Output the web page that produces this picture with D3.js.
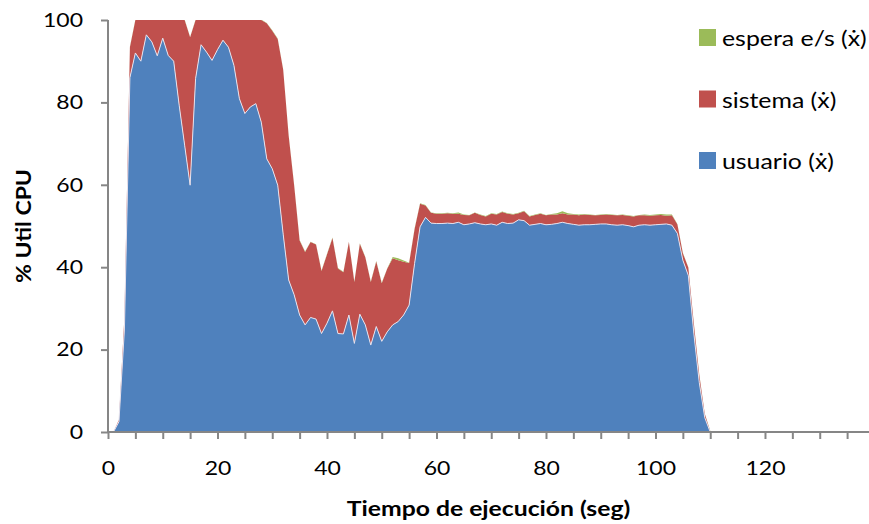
<!DOCTYPE html>
<html>
<head>
<meta charset="utf-8">
<script src="https://cdn.jsdelivr.net/npm/d3@7"></script>
<style>
  body { margin: 0; background: #fff; }
  svg text { font-family: Lato, "Open Sans", sans-serif; fill: #000; }
</style>
</head>
<body>
<svg id="chart" width="869" height="524"></svg>
<script>
// Tiempo de ejecución (segundos), one sample per second
const tiempo = d3.range(0, 111);

// % CPU en modo usuario
const usuario = [
  0, 0, 2.5, 25, 86, 92, 90, 96.4, 94.7, 91.3,
  95.6, 91.4, 90, 79.3, 69.6, 59.9, 85.8, 94, 92.2, 90.2,
  92.8, 95.1, 93.4, 89, 80.9, 77.3, 78.9, 79.7, 75.2, 66.3,
  63.9, 59.9, 48, 36.9, 33.3, 28.4, 26, 27.8, 27.4, 23.9,
  26.4, 29.4, 23.9, 23.8, 28.4, 21.5, 28.6, 26, 21.1, 25.6,
  22, 24.3, 26, 26.8, 28.4, 30.8, 40.9, 49.8, 52.1, 50.7,
  50.6, 50.6, 50.7, 50.6, 50.9, 50.3, 50.5, 50.8, 50.5, 50.3,
  50.5, 50.2, 50.9, 50.6, 50.7, 51.5, 51.3, 50.2, 50.4, 50.6,
  50.3, 50.4, 50.6, 50.9, 50.6, 50.4, 50.2, 50.3, 50.3, 50.4,
  50.5, 50.5, 50.3, 50.2, 50.3, 50.1, 49.8, 50.2, 50.3, 50.2,
  50.3, 50.4, 50.5, 50.2, 48.2, 41.7, 38, 24, 12, 3.5,
  0
];

// % CPU en modo sistema
const sistema = [
  0, 0, 0.5, 3, 7.4, 8, 10, 3.6, 5.3, 8.7,
  4.4, 8.6, 10, 20.7, 30.4, 35.9, 14.2, 6, 7.8, 9.8,
  7.2, 4.9, 6.6, 11, 19.1, 22.7, 21.1, 20.3, 24.8, 32.9,
  33.5, 35.5, 39.9, 35, 26.6, 18.1, 17.7, 18.3, 18.1, 15.2,
  16.7, 17.7, 15.8, 15, 17.7, 14.9, 17.1, 16.4, 15.3, 15.8,
  14.1, 15.3, 16.2, 14.9, 12.9, 10.2, 8.4, 5.6, 2.9, 2.5,
  2.4, 2.4, 2.4, 2.4, 2.1, 2.4, 2.1, 2.4, 2.2, 2.0,
  2.5, 2.6, 2.5, 2.4, 2.1, 1.6, 2.3, 2.1, 2.3, 2.4,
  2.3, 2.4, 2.2, 2.2, 2.2, 2.4, 2.4, 2.5, 2.4, 2.2,
  2.2, 2.3, 2.4, 2.4, 2.4, 2.4, 2.5, 2.4, 2.3, 2.3,
  2.3, 2.3, 2.0, 2.4, 2.2, 1.7, 1.9, 2.4, 1.9, 0.9,
  0.2
];

// % CPU en espera de E/S
const espera = [
  0, 0, 0, 0.1, 0.1, 0.1, 0.1, 0.1, 0.1, 0.1,
  0.1, 0.1, 0.1, 0.1, 0.1, 0.1, 0.1, 0.1, 0.1, 0.1,
  0.1, 0.1, 0.1, 0.1, 0.1, 0.1, 0.1, 0.1, 0.1, 0.1,
  0.1, 0.1, 0.1, 0.1, 0.1, 0.1, 0.1, 0.1, 0.1, 0.1,
  0.1, 0.1, 0.1, 0.1, 0.1, 0.1, 0.1, 0.1, 0.1, 0.1,
  0.1, 0.1, 0.3, 0.5, 0.3, 0.1, 0.1, 0.1, 0.1, 0.1,
  0.1, 0.1, 0.1, 0.1, 0.3, 0.1, 0.1, 0.1, 0.1, 0.1,
  0.1, 0.1, 0.1, 0.1, 0.1, 0.1, 0.1, 0.1, 0.1, 0.1,
  0.1, 0.1, 0.3, 0.5, 0.3, 0.1, 0.2, 0.1, 0.1, 0.1,
  0.1, 0.1, 0.1, 0.1, 0.1, 0.1, 0.1, 0.1, 0.2, 0.2,
  0.2, 0.2, 0.3, 0.2, 0.1, 0.1, 0.1, 0.1, 0.1, 0.1,
  0.1
];

const serieNombres = ["usuario (ẋ)", "sistema (ẋ)", "espera e/s (ẋ)"];
const serieColores = ["#4F81BD", "#C0504D", "#9BBB59"];

const xTicks = d3.range(0, 136, 5);
const xEtiquetas = [0, 20, 40, 60, 80, 100, 120];
const yTicks = [0, 20, 40, 60, 80, 100];

const ejeColor = "#868686";
// Text is drawn slightly widened, like the condensed-but-stretched office font
const ancho = 1.18;

const svg = d3.select("#chart");

const x = d3.scaleLinear().domain([0, 139]).range([108, 869]);
const y = d3.scaleLinear().domain([0, 100]).range([432, 20]);

// Stack the three series: usuario at the bottom, then sistema, then espera
const filas = tiempo.map((t, i) => ({ t, u: usuario[i], s: sistema[i], e: espera[i] }));
const capas = d3.stack().keys(["u", "s", "e"])(filas);

svg.append("defs").append("clipPath").attr("id", "plotClip")
  .append("rect")
  .attr("x", x(0)).attr("y", y(100))
  .attr("width", x(139) - x(0)).attr("height", y(0) - y(100));

const area = d3.area()
  .x(d => x(d.data.t))
  .y0(d => y(d[0]))
  .y1(d => y(d[1]));

const plot = svg.append("g").attr("clip-path", "url(#plotClip)");

plot.selectAll("path.capa")
  .data(capas)
  .join("path")
  .attr("class", "capa")
  .attr("d", area)
  .attr("fill", (d, i) => serieColores[i]);

// Light edge along the top of the usuario band
plot.append("path")
  .datum(capas[0])
  .attr("d", d3.line().x(d => x(d.data.t)).y(d => y(d[1])))
  .attr("fill", "none")
  .attr("stroke", "#e4e2ee")
  .attr("stroke-width", 1);

// Axes
const xAxis = d3.axisBottom(x)
  .tickValues(xTicks)
  .tickSize(7)
  .tickPadding(22)
  .tickFormat(d => xEtiquetas.includes(d) ? d : "");

const gx = svg.append("g")
  .attr("transform", `translate(0,${y(0)})`)
  .call(xAxis);
gx.select(".domain").attr("d", `M${x(0)},0H869`);

const yAxis = d3.axisLeft(y)
  .tickValues(yTicks)
  .tickSize(7)
  .tickPadding(18);

const gy = svg.append("g")
  .attr("transform", `translate(${x(0)},0)`)
  .call(yAxis);
gy.select(".domain").attr("d", `M0,${y(100)}V${y(0)}`);

[gx, gy].forEach(g => {
  g.select(".domain").attr("stroke", ejeColor).attr("stroke-width", 2);
  g.selectAll(".tick line").attr("stroke", ejeColor).attr("stroke-width", 2);
  g.selectAll(".tick text")
    .style("font-family", "Lato, 'Open Sans', sans-serif")
    .style("font-size", "19.5px")
    .attr("fill", "#000")
    .attr("transform", `scale(${ancho},1)`);
});
// keep the right edge of the y labels in place after widening
gy.selectAll(".tick text").attr("x", -25 / ancho);

// Axis titles
svg.append("text")
  .attr("transform", `translate(${(x(0) + 869) / 2},516) scale(1.15,1)`)
  .attr("text-anchor", "middle")
  .style("font-size", "21.5px")
  .style("font-weight", "bold")
  .text("Tiempo de ejecución (seg)");

svg.append("text")
  .attr("transform", `translate(31,${(y(0) + y(100)) / 2}) rotate(-90) scale(1.15,1)`)
  .attr("text-anchor", "middle")
  .style("font-size", "20px")
  .style("font-weight", "bold")
  .text("% Util CPU");

// Legend: espera on top, usuario at the bottom
const leyenda = svg.append("g").attr("transform", "translate(699,29)");
const ordenLeyenda = [2, 1, 0];
ordenLeyenda.forEach((k, j) => {
  const g = leyenda.append("g").attr("transform", `translate(0,${j * 61.5})`);
  g.append("rect").attr("width", 17).attr("height", 17).attr("fill", serieColores[k]);
  g.append("text")
    .attr("transform", "translate(23,17) scale(1.13,1)")
    .style("font-size", "22px")
    .text(serieNombres[k]);
});
</script>
</body>
</html>
